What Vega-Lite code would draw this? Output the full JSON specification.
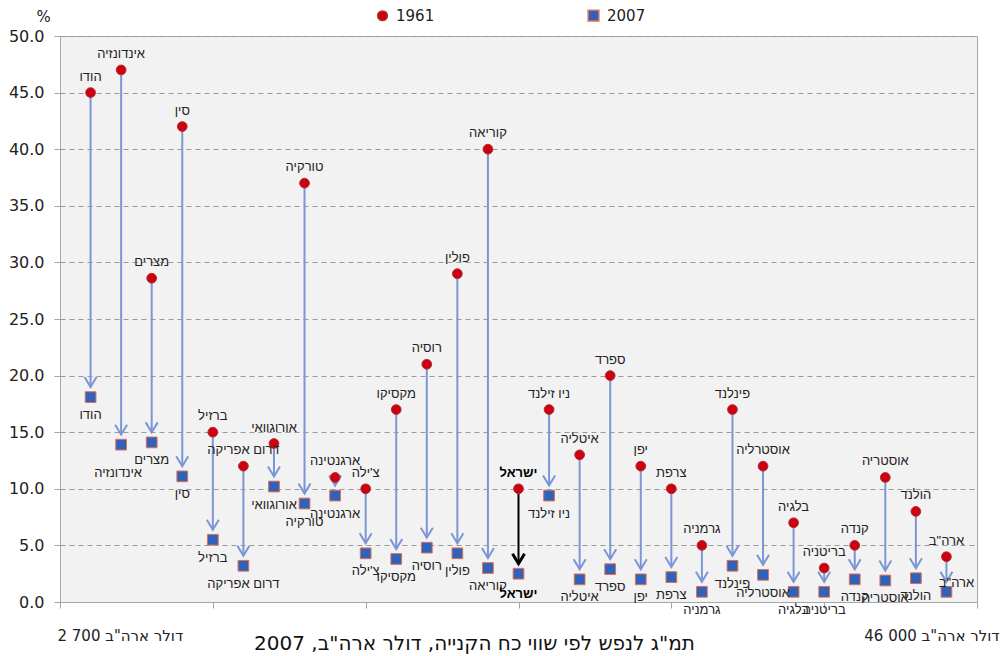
{
  "$schema": "https://vega.github.io/schema/vega-lite/v6.json",
  "width": 917,
  "height": 566,
  "autosize": {"type": "none"},
  "padding": {"left": 60, "top": 36, "right": 30, "bottom": 54},
  "background": "white",
  "config": {
    "view": {"fill": "#f2f2f2", "stroke": "#a6a6a6", "strokeWidth": 1},
    "font": "Liberation Sans",
    "text": {"font": "Liberation Sans"}
  },
  "data": {
    "values": [
      {"country": "הודו", "rank": 1, "v1961": 45.0, "v2007": 18.1},
      {"country": "אינדונזיה", "rank": 2, "v1961": 47.0, "v2007": 13.9},
      {"country": "מצרים", "rank": 3, "v1961": 28.6, "v2007": 14.1},
      {"country": "סין", "rank": 4, "v1961": 42.0, "v2007": 11.1},
      {"country": "ברזיל", "rank": 5, "v1961": 15.0, "v2007": 5.5},
      {"country": "דרום אפריקה", "rank": 6, "v1961": 12.0, "v2007": 3.2},
      {"country": "אורוגוואי", "rank": 7, "v1961": 14.0, "v2007": 10.2},
      {"country": "טורקיה", "rank": 8, "v1961": 37.0, "v2007": 8.7},
      {"country": "ארגנטינה", "rank": 9, "v1961": 11.0, "v2007": 9.4},
      {"country": "צ'ילה", "rank": 10, "v1961": 10.0, "v2007": 4.3},
      {"country": "מקסיקו", "rank": 11, "v1961": 17.0, "v2007": 3.8},
      {"country": "רוסיה", "rank": 12, "v1961": 21.0, "v2007": 4.8},
      {"country": "פולין", "rank": 13, "v1961": 29.0, "v2007": 4.3},
      {"country": "קוריאה", "rank": 14, "v1961": 40.0, "v2007": 3.0},
      {"country": "ישראל", "rank": 15, "v1961": 10.0, "v2007": 2.5},
      {"country": "ניו זילנד", "rank": 16, "v1961": 17.0, "v2007": 9.4},
      {"country": "איטליה", "rank": 17, "v1961": 13.0, "v2007": 2.0},
      {"country": "ספרד", "rank": 18, "v1961": 20.0, "v2007": 2.9},
      {"country": "יפן", "rank": 19, "v1961": 12.0, "v2007": 2.0},
      {"country": "צרפת", "rank": 20, "v1961": 10.0, "v2007": 2.2},
      {"country": "גרמניה", "rank": 21, "v1961": 5.0, "v2007": 0.9},
      {"country": "פינלנד", "rank": 22, "v1961": 17.0, "v2007": 3.2},
      {"country": "אוסטרליה", "rank": 23, "v1961": 12.0, "v2007": 2.4},
      {"country": "בלגיה", "rank": 24, "v1961": 7.0, "v2007": 0.9},
      {"country": "בריטניה", "rank": 25, "v1961": 3.0, "v2007": 0.9},
      {"country": "קנדה", "rank": 26, "v1961": 5.0, "v2007": 2.0},
      {"country": "אוסטריה", "rank": 27, "v1961": 11.0, "v2007": 1.9},
      {"country": "הולנד", "rank": 28, "v1961": 8.0, "v2007": 2.1},
      {"country": "ארה\"ב", "rank": 29, "v1961": 4.0, "v2007": 0.9}
    ]
  },
  "encoding": {
    "x": {
      "field": "rank",
      "type": "quantitative",
      "scale": {"domain": [0, 30], "nice": false, "zero": false},
      "axis": {
        "values": [0, 5, 10, 15, 20, 25, 30],
        "grid": false,
        "domainColor": "#a6a6a6",
        "tickColor": "#a6a6a6",
        "tickSize": 6,
        "labelExpr": "datum.value == 0 ? 'דולר ארה\"ב  2\u00a0700' : datum.value == 30 ? 'דולר ארה\"ב  46\u00a0000' : ''",
        "labelAlign": {"condition": {"test": "datum.value == 0", "value": "left"}, "value": "right"},
        "labelOffset": {"condition": {"test": "datum.value == 0", "value": -3}, "value": 22},
        "labelPadding": 20,
        "labelFont": "DejaVu Sans",
        "labelFontSize": 15,
        "labelColor": "#222222",
        "labelOverlap": false,
        "labelBound": false,
        "labelFlush": false,
        "title": "תמ\"ג לנפש לפי שווי כח הקנייה, דולר ארה\"ב, 2007",
        "titleFont": "DejaVu Sans",
        "titleFontSize": 20,
        "titleFontWeight": "normal",
        "titleColor": "#111111",
        "titleX": 414,
        "titleY": 31,
        "titleBaseline": "top"
      }
    }
  },
  "layer": [
    {
      "mark": {"type": "rule", "strokeWidth": 2, "y2Offset": -10},
      "encoding": {
        "y": {
          "field": "v1961",
          "type": "quantitative",
          "scale": {"domain": [0, 50], "nice": false},
          "axis": {
            "values": [0, 5, 10, 15, 20, 25, 30, 35, 40, 45, 50],
            "format": ".1f",
            "grid": true,
            "gridDash": [5, 4],
            "gridColor": "#9a9a9a",
            "gridWidth": 1,
            "domainColor": "#a6a6a6",
            "tickColor": "#a6a6a6",
            "tickSize": 6,
            "labelPadding": 10,
            "labelFont": "DejaVu Sans",
            "labelFontSize": 16,
            "labelColor": "#222222",
            "title": "%",
            "titleFont": "DejaVu Sans",
            "titleAngle": 0,
            "titleAlign": "center",
            "titleBaseline": "bottom",
            "titleX": -17,
            "titleY": -12,
            "titleFontSize": 15,
            "titleFontWeight": "normal",
            "titleColor": "#222222"
          }
        },
        "y2": {"field": "v2007"},
        "color": {
          "condition": {"test": "datum.country == 'ישראל'", "value": "#000000"},
          "value": "#7b96d6"
        },
        "strokeWidth": {
          "condition": {"test": "datum.country == 'ישראל'", "value": 3},
          "value": 2
        }
      }
    },
    {
      "mark": {
        "type": "point",
        "shape": "M-1.2,-2L0,0L1.2,-2",
        "filled": false,
        "size": 100,
        "yOffset": -10,
        "opacity": 1
      },
      "encoding": {
        "y": {"field": "v2007", "type": "quantitative"},
        "stroke": {
          "condition": {"test": "datum.country == 'ישראל'", "value": "#000000"},
          "value": "#7b96d6"
        },
        "strokeWidth": {
          "condition": {"test": "datum.country == 'ישראל'", "value": 3},
          "value": 2
        }
      }
    },
    {
      "transform": [{"fold": ["v1961", "v2007"], "as": ["series", "value"]}],
      "mark": {"type": "point", "filled": true, "opacity": 1, "strokeWidth": 1},
      "encoding": {
        "y": {"field": "value", "type": "quantitative"},
        "shape": {
          "field": "series",
          "type": "nominal",
          "scale": {"domain": ["v1961", "v2007"], "range": ["circle", "square"]},
          "legend": {
            "orient": "none",
            "legendX": 315,
            "legendY": -28,
            "direction": "horizontal",
            "title": null,
            "padding": 0,
            "columnPadding": 150,
            "labelFont": "DejaVu Sans",
            "labelFontSize": 15,
            "labelColor": "#222222",
            "labelOffset": 6,
            "labelExpr": "datum.value == 'v1961' ? '1961' : '2007'"
          }
        },
        "fill": {
          "field": "series",
          "type": "nominal",
          "scale": {"domain": ["v1961", "v2007"], "range": ["#cc0010", "#2f62b8"]}
        },
        "stroke": {
          "field": "series",
          "type": "nominal",
          "scale": {"domain": ["v1961", "v2007"], "range": ["#b03030", "#e07050"]},
          "legend": null
        },
        "size": {
          "field": "series",
          "type": "nominal",
          "scale": {"domain": ["v1961", "v2007"], "range": [95, 115]}
        }
      }
    },
    {
      "transform": [{"filter": "datum.country != 'ישראל'"}],
      "mark": {"type": "text", "dy": -16, "fontSize": 13, "color": "#222222"},
      "encoding": {
        "y": {"field": "v1961", "type": "quantitative"},
        "text": {"field": "country"}
      }
    },
    {
      "transform": [{"filter": "datum.country != 'ישראל' && datum.country != 'ארה\"ב' && datum.country != 'אינדונזיה'"}],
      "mark": {"type": "text", "dy": 18, "fontSize": 13, "color": "#222222"},
      "encoding": {
        "y": {"field": "v2007", "type": "quantitative"},
        "text": {"field": "country"}
      }
    },
    {
      "transform": [{"filter": "datum.country == 'אינדונזיה'"}],
      "mark": {"type": "text", "dy": 28, "dx": -3, "fontSize": 13, "color": "#222222"},
      "encoding": {
        "y": {"field": "v2007", "type": "quantitative"},
        "text": {"field": "country"}
      }
    },
    {
      "transform": [{"filter": "datum.country == 'ארה\"ב'"}],
      "mark": {"type": "text", "dy": -9, "dx": 10, "fontSize": 13, "color": "#222222"},
      "encoding": {
        "y": {"field": "v2007", "type": "quantitative"},
        "text": {"field": "country"}
      }
    },
    {
      "transform": [{"filter": "datum.country == 'ישראל'"}],
      "mark": {"type": "text", "dy": -16, "fontSize": 13, "fontWeight": "bold", "color": "#000000"},
      "encoding": {
        "y": {"field": "v1961", "type": "quantitative"},
        "text": {"field": "country"}
      }
    },
    {
      "transform": [{"filter": "datum.country == 'ישראל'"}],
      "mark": {"type": "text", "dy": 20, "fontSize": 13, "fontWeight": "bold", "color": "#000000"},
      "encoding": {
        "y": {"field": "v2007", "type": "quantitative"},
        "text": {"field": "country"}
      }
    },
    {
      "data": {"values": [{}]},
      "mark": {"type": "rule", "color": "#000000", "strokeWidth": 3},
      "encoding": {
        "x": {"datum": 8.0},
        "x2": {"datum": 20.6},
        "y": {"datum": -2.3}
      }
    },
    {
      "data": {"values": [{}]},
      "mark": {
        "type": "point",
        "shape": "M-2,-1L0,0L-2,1",
        "filled": false,
        "size": 100,
        "stroke": "#000000",
        "strokeWidth": 2.5,
        "opacity": 1
      },
      "encoding": {
        "x": {"datum": 20.6},
        "y": {"datum": -2.3}
      }
    }
  ]
}
